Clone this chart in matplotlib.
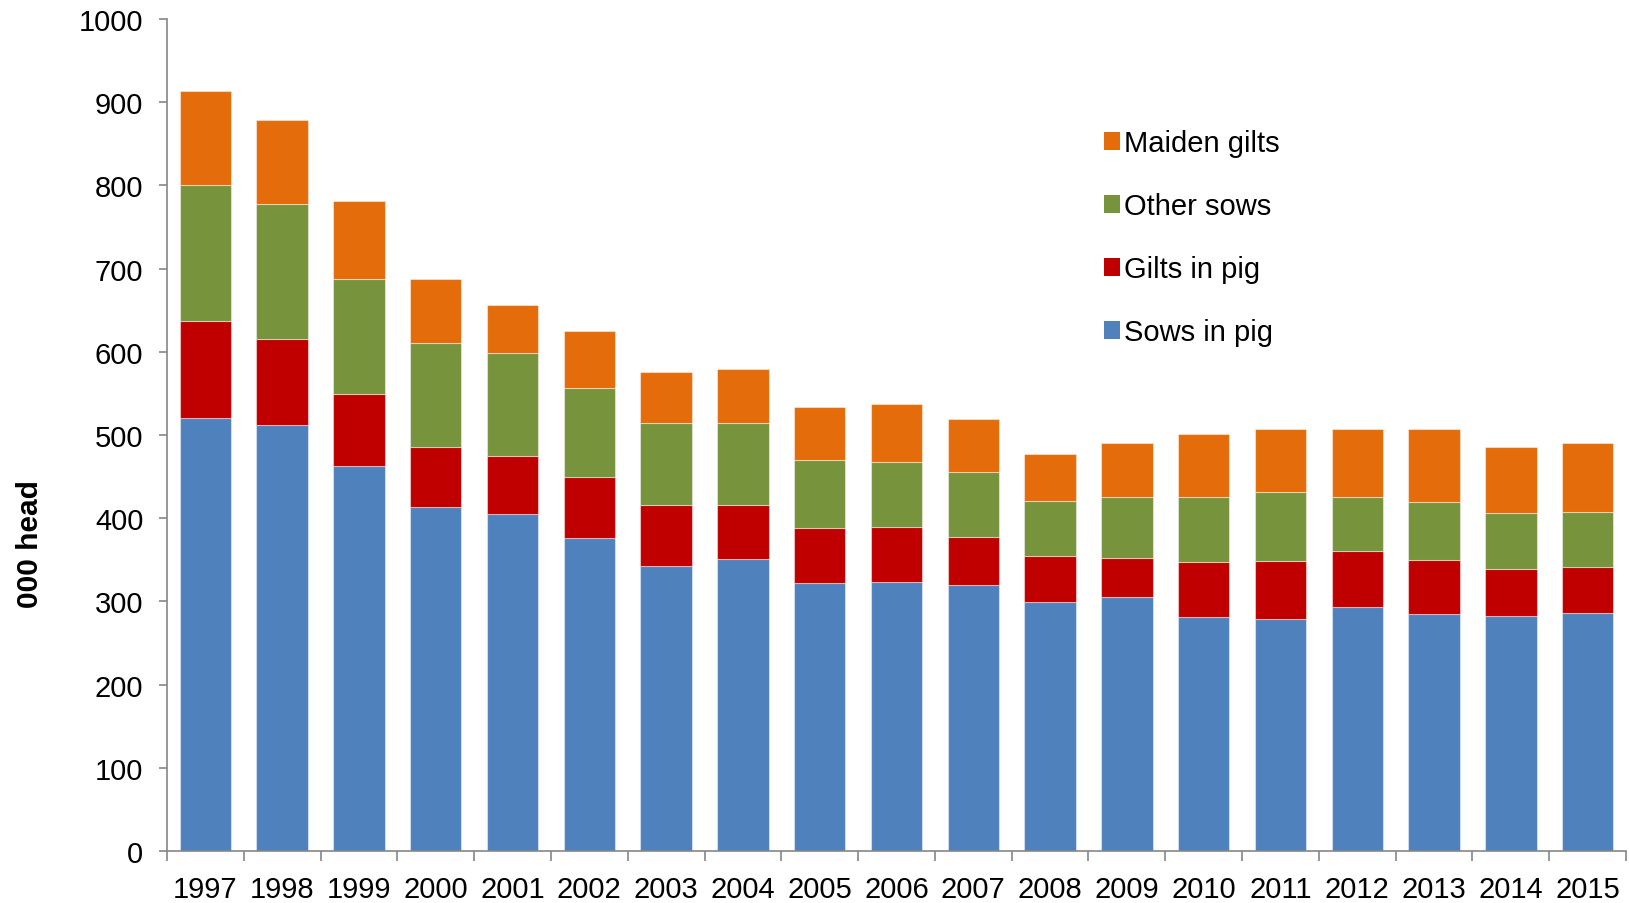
import matplotlib
matplotlib.use("Agg")
import matplotlib.pyplot as plt
import numpy as np
from matplotlib.patches import Patch

years = ["1997", "1998", "1999", "2000", "2001", "2002", "2003", "2004", "2005", "2006",
         "2007", "2008", "2009", "2010", "2011", "2012", "2013", "2014", "2015"]
sows_in_pig = [521, 512, 463, 413, 405, 376, 343, 351, 322, 323, 320, 299, 305, 281, 279, 293, 285, 282, 286]
gilts_in_pig = [116, 103, 86, 73, 70, 74, 73, 65, 66, 67, 57, 55, 47, 66, 70, 68, 65, 57, 55]
other_sows = [163, 163, 139, 124, 123, 107, 99, 99, 82, 78, 78, 67, 74, 79, 82, 64, 70, 67, 66]
maiden_gilts = [114, 101, 93, 78, 58, 68, 61, 64, 64, 69, 64, 56, 64, 75, 76, 82, 87, 80, 83]

series_names = ["Sows in pig", "Gilts in pig", "Other sows", "Maiden gilts"]
series_colors = ["#4F81BD", "#C00000", "#77933C", "#E46C0A"]
y_ticks = [0, 100, 200, 300, 400, 500, 600, 700, 800, 900, 1000]

plt.rcParams['font.family'] = ['Liberation Sans', 'DejaVu Sans']

fig = plt.figure(figsize=(16.29, 9.04), dpi=100)
ax = fig.add_axes([167/1629, 1 - 852/904, (1626 - 167)/1629, (852 - 20)/904])

x = np.arange(len(years))
bottom = np.zeros(len(years))
for vals, name, col in zip([sows_in_pig, gilts_in_pig, other_sows, maiden_gilts], series_names, series_colors):
    v = np.array(vals, dtype=float)
    ax.bar(x, v, width=0.67, bottom=bottom, color=col, edgecolor=(1, 1, 1, 0.45), linewidth=0.8, label=name)
    bottom += v

ax.set_xlim(-0.5, len(years) - 0.5)
ax.set_ylim(0, 1000)
ax.set_yticks(y_ticks)
ax.set_yticklabels([str(t) for t in y_ticks], fontsize=21)
ax.set_xticks(x)
ax.set_xticklabels(years, fontsize=21)
ax.set_xticks(np.arange(-0.5, len(years), 1.0), minor=True)

spine_col = "#868686"
for s in ["top", "right"]:
    ax.spines[s].set_visible(False)
for s in ["left", "bottom"]:
    ax.spines[s].set_color(spine_col)
    ax.spines[s].set_linewidth(1.2)

ax.tick_params(axis='y', which='major', length=6, width=1.2, color=spine_col, pad=11, labelcolor='black')
ax.tick_params(axis='x', which='major', length=0, pad=17, labelcolor='black')
ax.tick_params(axis='x', which='minor', length=7, width=1.2, color=spine_col)

ax.set_ylabel("000 head", fontsize=21.5, fontweight='bold')
ax.yaxis.set_label_coords(-0.0844, 0.37)

handles = [Patch(facecolor=c, edgecolor='none') for c in series_colors]
leg = fig.legend(handles[::-1], series_names[::-1], loc='center left',
                 bbox_to_anchor=(1104/1629, 1 - 239/904), frameon=False, fontsize=21,
                 handlelength=0.55, handleheight=0.55, handletextpad=0.12, labelspacing=1.2,
                 borderpad=0, borderaxespad=0)

fig.savefig("out.png", dpi=100)
